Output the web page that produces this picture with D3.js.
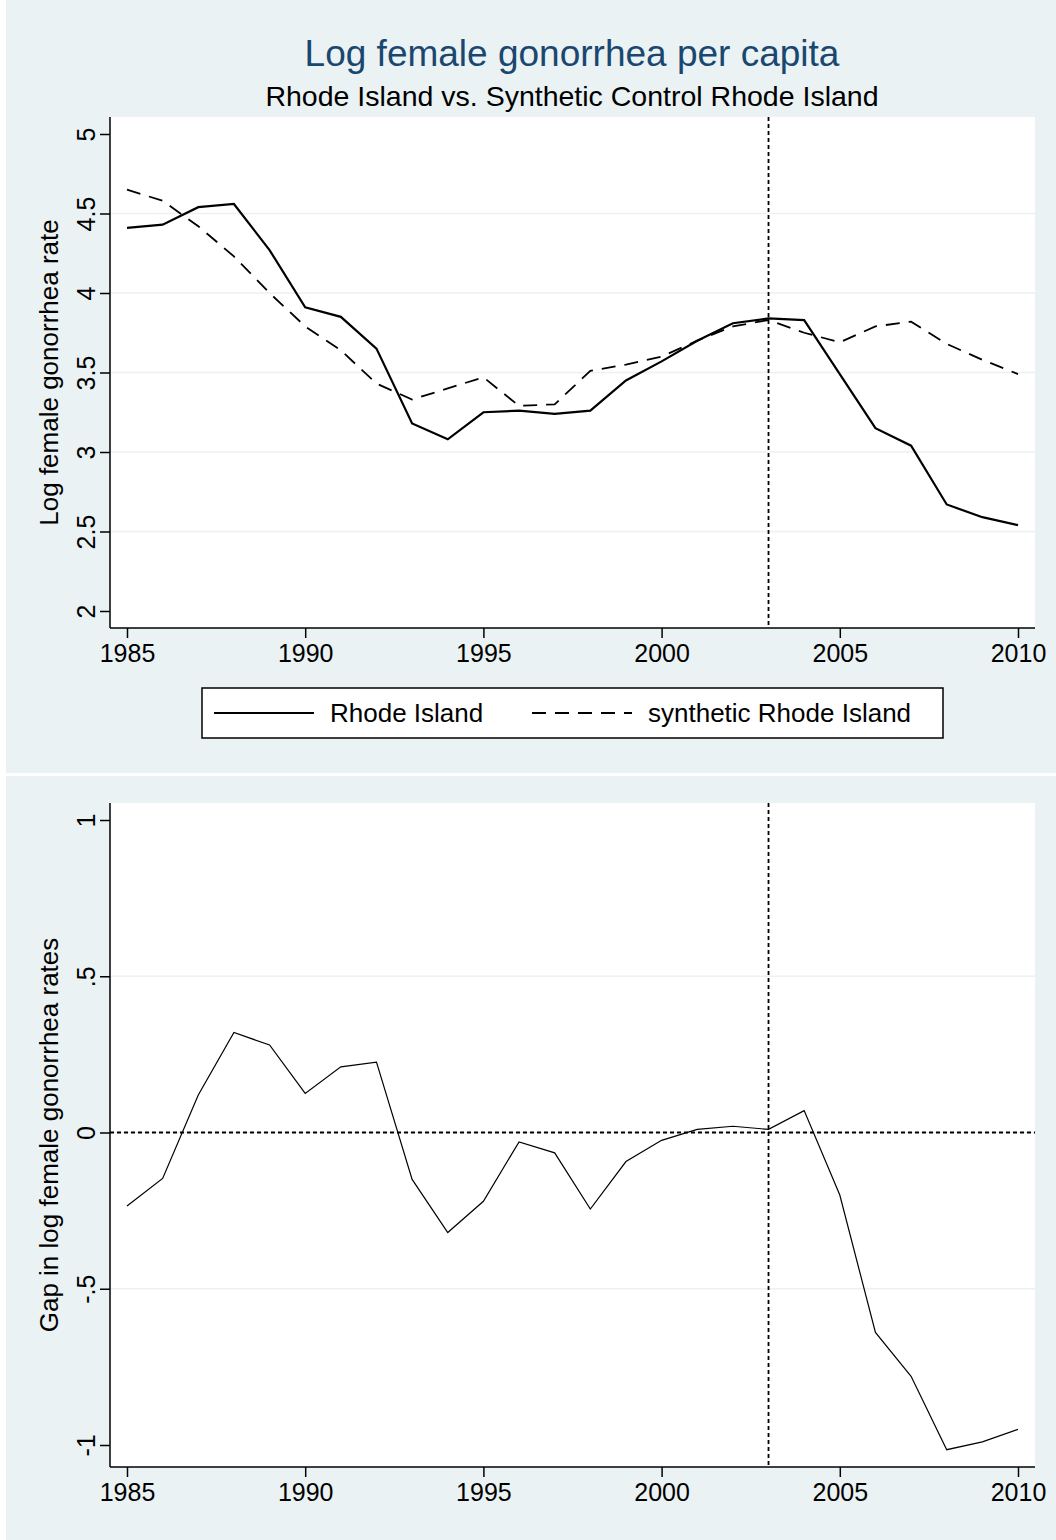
<!DOCTYPE html>
<html><head><meta charset="utf-8">
<script src="https://cdn.jsdelivr.net/npm/d3@7"></script>
<style>body{margin:0;background:#fff}svg{display:block;font-family:"Liberation Sans",Arial,sans-serif}</style>
</head><body>
<svg id="c" width="1056" height="1540"></svg>
<script>
var years = d3.range(1985, 2011);
var rhodeIsland = [4.41,4.43,4.54,4.56,4.27,3.91,3.85,3.65,3.18,3.08,3.25,3.26,3.24,3.26,3.45,3.57,3.70,3.81,3.84,3.83,3.49,3.15,3.04,2.67,2.59,2.54];
var synthetic = [4.65,4.58,4.42,4.23,4.00,3.79,3.64,3.43,3.33,3.40,3.47,3.29,3.30,3.51,3.55,3.60,3.70,3.79,3.83,3.75,3.69,3.79,3.82,3.68,3.58,3.49];
var gap = [-0.235,-0.147,0.12,0.32,0.28,0.125,0.21,0.225,-0.15,-0.32,-0.22,-0.03,-0.065,-0.245,-0.093,-0.025,0.01,0.02,0.01,0.07,-0.2,-0.64,-0.78,-1.015,-0.99,-0.95];
var xTicks = [1985,1990,1995,2000,2005,2010];
var yTicksTop = [2,2.5,3,3.5,4,4.5,5];
var yTicksBot = [-1,-0.5,0,0.5,1];
var treatYear = 2003;

var svg = d3.select("#c");
var bg = "#eaf2f3";
svg.append("rect").attr("x",6).attr("y",0).attr("width",1050).attr("height",773).attr("fill",bg);
svg.append("rect").attr("x",6).attr("y",776).attr("width",1050).attr("height",764).attr("fill",bg);

var x = d3.scaleLinear().domain([1985,2010]).range([127,1018]);

function panel(top, bottom, yDomain, yR, yTicks, fmt, ytitle) {
  var y = d3.scaleLinear().domain(yDomain).range(yR);
  svg.append("rect").attr("x",110).attr("y",top).attr("width",925).attr("height",bottom-top).attr("fill","#fff");
  svg.append("g").selectAll("line").data(yTicks.filter(function(t){return t!==yDomain[0]&&t!==yDomain[1];}))
    .enter().append("line").attr("x1",110).attr("x2",1035)
    .attr("y1",function(d){return y(d);}).attr("y2",function(d){return y(d);})
    .attr("stroke","#eaf2f3").attr("stroke-width",1.5);
  var ya = svg.append("g").attr("transform","translate(110,0)")
    .call(d3.axisLeft(y).tickValues(yTicks).tickFormat(fmt).tickSize(10));
  ya.select(".domain").attr("d","M0,"+top+"V"+bottom);
  ya.selectAll(".tick text").attr("x",0).attr("y",0).attr("dy",null)
    .attr("transform","translate(-15,0) rotate(-90)")
    .attr("text-anchor","middle").style("font-size","25px").attr("fill","#000");
  var xa = svg.append("g").attr("transform","translate(0,"+bottom+")")
    .call(d3.axisBottom(x).tickValues(xTicks).tickFormat(d3.format("d")).tickSize(10).tickPadding(6));
  xa.select(".domain").attr("d","M110,0H1035");
  xa.selectAll("text").style("font-size","25px").attr("fill","#000");
  svg.selectAll(".domain, .tick line").attr("stroke","#000").attr("stroke-width",1.5);
  svg.append("text").attr("transform","translate(58,"+((top+bottom)/2)+") rotate(-90)")
    .attr("text-anchor","middle").style("font-size","26px").text(ytitle);
  svg.append("line").attr("x1",x(treatYear)).attr("x2",x(treatYear)).attr("y1",top).attr("y2",bottom)
    .attr("stroke","#000").attr("stroke-width",1.8).attr("stroke-dasharray","4,3");
  return y;
}

svg.append("text").attr("x",572).attr("y",66).attr("text-anchor","middle").style("font-size","37px").attr("fill","#1a476f").text("Log female gonorrhea per capita");
svg.append("text").attr("x",572).attr("y",106).attr("text-anchor","middle").style("font-size","28.5px").text("Rhode Island vs. Synthetic Control Rhode Island");

var y1 = panel(117, 628, [2,5], [611,134], yTicksTop, d3.format("~g"), "Log female gonorrhea rate");
var line1 = d3.line().x(function(d,i){return x(years[i]);}).y(function(d){return y1(d);});
svg.append("path").attr("d",line1(rhodeIsland)).attr("fill","none").attr("stroke","#000").attr("stroke-width",2.2);
svg.append("path").attr("d",line1(synthetic)).attr("fill","none").attr("stroke","#000").attr("stroke-width",1.8).attr("stroke-dasharray","14,9");

var lg = svg.append("g");
lg.append("rect").attr("x",202).attr("y",688).attr("width",741).attr("height",50).attr("fill","#fff").attr("stroke","#000").attr("stroke-width",1.5);
lg.append("line").attr("x1",214).attr("x2",314).attr("y1",713).attr("y2",713).attr("stroke","#000").attr("stroke-width",2.2);
lg.append("text").attr("x",330).attr("y",722).style("font-size","26px").text("Rhode Island");
lg.append("line").attr("x1",532).attr("x2",632).attr("y1",713).attr("y2",713).attr("stroke","#000").attr("stroke-width",1.8).attr("stroke-dasharray","14,9");
lg.append("text").attr("x",648).attr("y",722).style("font-size","26px").text("synthetic Rhode Island");

var fmtB = function(d){ return d===0?"0":d===1?"1":d===-1?"-1":d>0?".5":"-.5"; };
var y2 = panel(803, 1467, [-1,1], [1445,820], yTicksBot, fmtB, "Gap in log female gonorrhea rates");
svg.append("line").attr("x1",110).attr("x2",1035).attr("y1",y2(0)).attr("y2",y2(0)).attr("stroke","#000").attr("stroke-width",1.8).attr("stroke-dasharray","4,3");
var line2 = d3.line().x(function(d,i){return x(years[i]);}).y(function(d){return y2(d);});
svg.append("path").attr("d",line2(gap)).attr("fill","none").attr("stroke","#000").attr("stroke-width",1.2);
</script>
</body></html>
